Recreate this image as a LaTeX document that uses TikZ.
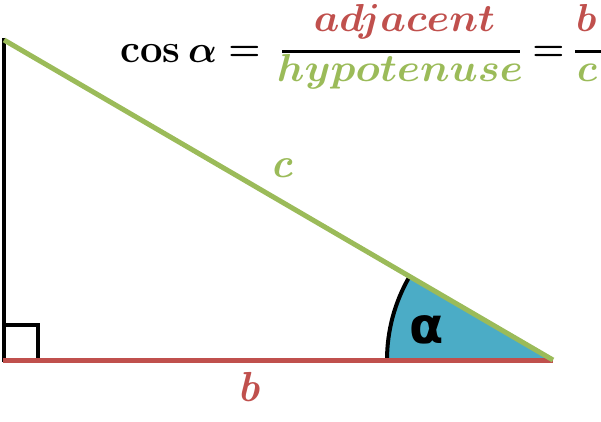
\documentclass[tikz,border=0pt]{standalone}
\usepackage{fontspec}
\usepackage{graphicx}
\usetikzlibrary{calc}
\newfontfamily\dejavu{DejaVu Sans}
\definecolor{adjred}{HTML}{C0504D}
\definecolor{hypgreen}{HTML}{9BBB59}
\definecolor{angblue}{HTML}{4BACC6}
\tikzset{
  side/.style={line width=5pt},
  thinside/.style={line width=4pt, black},
  formula/.style={inner sep=0pt, font=\fontsize{10}{12}\selectfont\boldmath},
  sidelabel/.style={inner sep=0pt, font=\fontsize{42}{50}\selectfont\bfseries\itshape},
}
\begin{document}
\begin{tikzpicture}[x=1pt,y=1pt]
\useasboundingbox (0,0) rectangle (601,421);
\clip (0,0) rectangle (601,421);
% vertices
\coordinate (A) at (4,381);
\coordinate (C) at (4,61);
\coordinate (B) at (553,61);
\coordinate (Atop) at (4,383);
\coordinate (Cbot) at (4,59);
\coordinate (Sq1) at (4,96);
\coordinate (Sq2) at (38,96);
\coordinate (Sq3) at (38,61);
% angle sector
\fill[angblue] (B) -- ++(180:166) arc[start angle=180, end angle=149.76, radius=166] -- cycle;
\draw[line width=4pt, black] ($(B)+(180:166)$) coordinate (arcS) arc[start angle=180, end angle=149.76, radius=166] coordinate (arcE);
% legs
\draw[thinside] (Atop) -- (Cbot);
\draw[line width=3.5pt, black] (Sq1) -- (Sq2) -- (Sq3);
\draw[side, adjred] (3,61) coordinate (Cl) -- (B);
\draw[side, hypgreen] (A) -- (B);
% labels
\node[sidelabel, text=hypgreen] (lc) at (282,253) {c};
\node[sidelabel, text=adjred] (lb) at (249,34) {b};
\node[inner sep=0pt, font=\dejavu\bfseries\fontsize{50}{60}\selectfont] (la) at (427,91) {α};
% formula
\node[inner sep=0pt, font=\fontsize{40}{48}\selectfont\bfseries, anchor=base west] (cos) at (120,358) {cos};
\node[formula, anchor=base west] (alp) at (188,358) {\scalebox{3.8}{$\alpha$}};
\node[formula] (eq1) at (244.5,367.5) {\scalebox{3.6}{$=$}};
\coordinate (bar1l) at (282,369);
\coordinate (bar1r) at (520,369);
\draw[line width=3pt] (bar1l) -- (bar1r);
\node[formula, anchor=base, text=adjred] (adj) at (404.5,389) {\scalebox{4.05}[3.9]{$adjacent$}};
\node[formula, anchor=base, text=hypgreen] (hyp) at (400,339) {\scalebox{4.15}[3.9]{$hypotenuse$}};
\node[formula] (eq2) at (548.5,368) {\scalebox{3.6}{$=$}};
\coordinate (bar2l) at (575,369);
\coordinate (bar2r) at (612,369);
\draw[line width=3pt] (bar2l) -- (bar2r);
\node[formula, anchor=base west, text=adjred] (fb) at (576,389) {\scalebox{3.9}{$b$}};
\node[formula, anchor=base west, text=hypgreen] (fc) at (577,339) {\scalebox{3.9}{$c$}};
\end{tikzpicture}
\end{document}
